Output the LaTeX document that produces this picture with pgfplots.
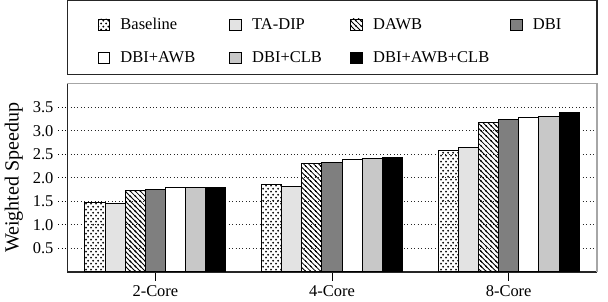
\documentclass[border=0pt]{standalone}
\usepackage{fontspec}
\setmainfont{Liberation Serif}
\usepackage{pgfplots}
\pgfplotsset{compat=1.18}
\usetikzlibrary{patterns}

\pgfdeclarepatternformonly{sparsedots}{\pgfqpoint{0pt}{0pt}}{\pgfqpoint{3.5pt}{4.4pt}}{\pgfqpoint{3.5pt}{4.4pt}}{%
  \pgfpathcircle{\pgfqpoint{0.875pt}{1.1pt}}{0.8pt}%
  \pgfpathcircle{\pgfqpoint{2.625pt}{3.3pt}}{0.8pt}%
  \pgfusepath{fill}}
\pgfdeclarepatternformonly{nwlines}{\pgfqpoint{-0.5pt}{-0.5pt}}{\pgfqpoint{4pt}{4pt}}{\pgfqpoint{3.5pt}{3.5pt}}{%
  \pgfsetlinewidth{0.6pt}%
  \pgfpathmoveto{\pgfqpoint{-0.5pt}{4pt}}\pgfpathlineto{\pgfqpoint{4pt}{-0.5pt}}%
  \pgfpathmoveto{\pgfqpoint{-0.5pt}{0.5pt}}\pgfpathlineto{\pgfqpoint{0.5pt}{-0.5pt}}%
  \pgfpathmoveto{\pgfqpoint{3pt}{4pt}}\pgfpathlineto{\pgfqpoint{4pt}{3pt}}%
  \pgfusepath{stroke}}

\definecolor{cTADIP}{HTML}{E3E3E3}
\definecolor{cDBI}{HTML}{7F7F7F}
\definecolor{cCLB}{HTML}{C8C8C8}

\begin{document}
\begin{tikzpicture}
\begin{axis}[
  name=ax,
  scale only axis, width=370pt, height=131.5pt,
  ybar=0pt, bar width=0.114,
  xmin=-0.5, xmax=2.5, ymin=0, ymax=4,
  xtick={0,1,2}, xticklabels={2-Core,4-Core,8-Core},
  ytick={0.5,1,1.5,2,2.5,3,3.5},
  yticklabel style={/pgf/number format/fixed, /pgf/number format/precision=1, /pgf/number format/fixed zerofill},
  /pgf/number format/assume math mode=true,
  axis x line*=bottom, axis y line*=left,
  axis line style={black!85, line width=0.8pt, -},
  major tick length=6pt,
  x tick style={black, line width=0.6pt},
  y tick style={black, dotted, line width=0.6pt},
  tick align=outside,
  ymajorgrids, grid style={dotted, black!85, line width=0.6pt},
  ticklabel style={font=\fontsize{11.5}{13}\selectfont},
  ylabel={Weighted Speedup},
  ylabel style={font=\fontsize{14}{16}\selectfont},
  legend columns=4,
  legend cell align=left,
  legend image code/.code={\draw[#1, line width=0.6pt] (0pt,-4pt) rectangle (8pt,4pt);},
  legend style={draw=none, fill=none, inner sep=0pt,
    at={(rel axis cs:0.057,1.225)}, anchor=west,
    font=\fontsize{11.5}{13}\selectfont,
    row sep=10pt,
    /tikz/every odd column/.append style={column sep=5.4pt},
    /tikz/column 2/.style={column sep=21.8pt},
    /tikz/column 4/.style={column sep=17.8pt},
    /tikz/column 6/.style={column sep=12.5pt}},
  every axis plot/.append style={draw=black, line width=0.7pt},
]
\addplot[pattern=sparsedots] coordinates {(0,1.47) (1,1.85) (2,2.57)};
\addplot[fill=cTADIP] coordinates {(0,1.46) (1,1.81) (2,2.64)};
\addplot[pattern=nwlines] coordinates {(0,1.73) (1,2.30) (2,3.18)};
\addplot[fill=cDBI] coordinates {(0,1.76) (1,2.33) (2,3.24)};
\addplot[fill=white] coordinates {(0,1.79) (1,2.38) (2,3.28)};
\addplot[fill=cCLB] coordinates {(0,1.80) (1,2.40) (2,3.31)};
\addplot[fill=black] coordinates {(0,1.80) (1,2.44) (2,3.38)};
\legend{Baseline, TA-DIP, DAWB, DBI, DBI+AWB, DBI+CLB, DBI+AWB+CLB}
\end{axis}
\draw[black!35, line width=0.8pt] (ax.north west) -- (ax.north east) -- (ax.south east);
\draw[black!85, line width=0.8pt] ([yshift=6.3pt]ax.north west) rectangle ([yshift=58pt]ax.north east);
\path ([xshift=7.7pt]ax.south east);
\end{tikzpicture}
\end{document}
